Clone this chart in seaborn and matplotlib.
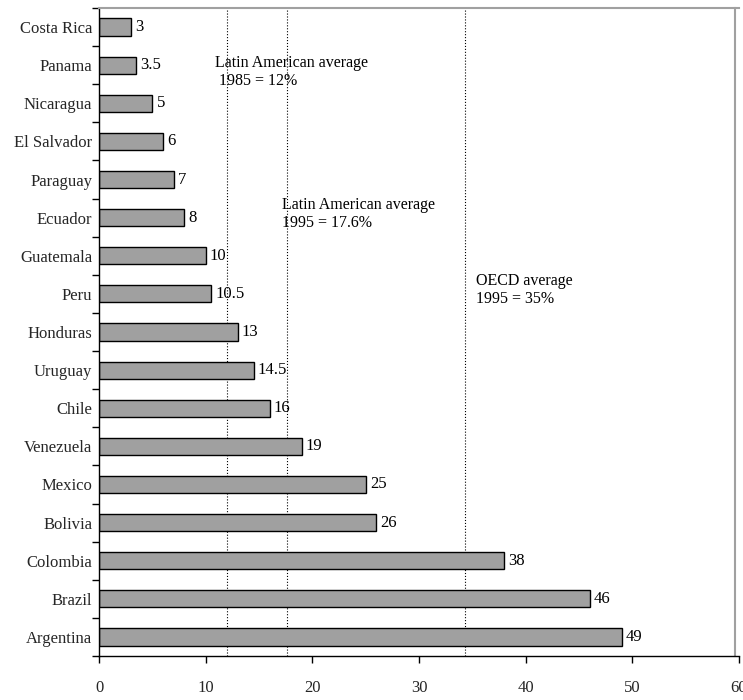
import numpy as np
import pandas as pd
import matplotlib
matplotlib.use("Agg")
import matplotlib.pyplot as plt
import seaborn as sns

# Données
countries = ['Costa Rica', 'Panama', 'Nicaragua', 'El Salvador', 'Paraguay', 'Ecuador',
             'Guatemala', 'Peru', 'Honduras', 'Uruguay', 'Chile', 'Venezuela',
             'Mexico', 'Bolivia', 'Colombia', 'Brazil', 'Argentina']
values = [3, 3.5, 5, 6, 7, 8, 10, 10.5, 13, 14.5, 16, 19, 25, 26, 38, 46, 49]
value_labels = ['3', '3.5', '5', '6', '7', '8', '10', '10.5', '13', '14.5', '16', '19',
                '25', '26', '38', '46', '49']
ref_lines = [12, 17.6, 34.3]
ref_texts = ['Latin American average\n 1985 = 12%',
             'Latin American average\n1995 = 17.6%',
             'OECD average\n1995 = 35%']
ref_text_pos = [(10.9, 0.72), (17.2, 4.45), (35.3, 6.45)]

sns.set_theme(style="white")
plt.rcParams['font.family'] = ['Liberation Serif', 'DejaVu Serif']
plt.rcParams['font.size'] = 11.5

df = pd.DataFrame({'Country': countries, 'Value': values})

fig = plt.figure(figsize=(7.43, 7.0), dpi=100)
ax = fig.add_axes([99 / 743, 1 - 656 / 700, 640 / 743, 648 / 700])

sns.barplot(data=df, x='Value', y='Country', color='#a0a0a0', edgecolor='black',
            linewidth=1, width=0.45, saturation=1, ax=ax)

for x in ref_lines:
    ax.axvline(x, color='black', linestyle=':', linewidth=0.8, zorder=0)

for (tx, ty), t in zip(ref_text_pos, ref_texts):
    ax.text(tx, ty, t, ha='left', va='top', fontsize=11.5, color='black')

for i, (v, lab) in enumerate(zip(values, value_labels)):
    ax.text(v + 0.4, i, lab, ha='left', va='center', fontsize=12, color='black')

ax.set_xlim(0, 60)
ax.set_ylim(len(countries) - 0.5, -0.5)
ax.set_xticks(np.arange(0, 61, 10))
ax.set_xlabel('')
ax.set_ylabel('')

# Ticks de l'axe y entre les catégories
ax.set_yticks(np.arange(-0.5, len(countries), 1), minor=True)
ax.tick_params(axis='y', which='major', length=0, pad=5, labelsize=12)
ax.tick_params(axis='y', which='minor', length=5, width=1, color='black', direction='out', left=True)
ax.tick_params(axis='x', which='major', length=5, width=1, color='black', direction='out',
               bottom=True, pad=12, labelsize=12)

for s in ['left', 'bottom']:
    ax.spines[s].set_color('black')
    ax.spines[s].set_linewidth(1)
# Cadre gris en haut et à droite
for s in ['top', 'right']:
    ax.spines[s].set_color('#a0a0a0')
    ax.spines[s].set_linewidth(1.5)
ax.spines['right'].set_position(('data', 59.6))
ax.spines['bottom'].set_zorder(3)

fig.savefig('out.png', dpi=100)
